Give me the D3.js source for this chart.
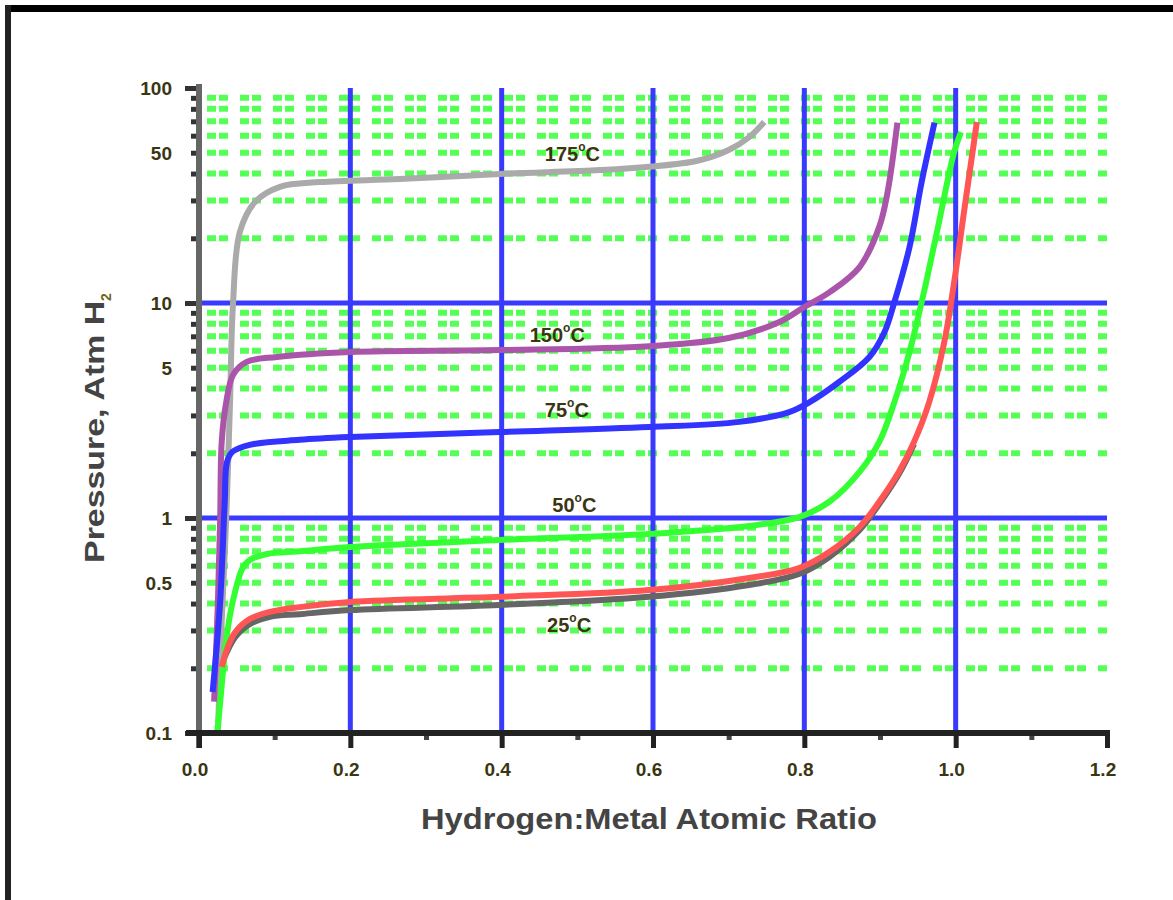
<!DOCTYPE html>
<html><head><meta charset="utf-8">
<script src="https://cdn.jsdelivr.net/npm/d3@7"></script>
<style>body{margin:0;background:#fff}svg{display:block}</style>
</head><body>
<svg id="c" width="1173" height="900"></svg>
<script>
const xTicks = [0.0, 0.2, 0.4, 0.6, 0.8, 1.0, 1.2];
const xTickLabels = ["0.0", "0.2", "0.4", "0.6", "0.8", "1.0", "1.2"];
const yTicks = [0.1, 0.5, 1, 5, 10, 50, 100];
const yTickLabels = ["0.1", "0.5", "1", "5", "10", "50", "100"];
const seriesNames = ["175°C", "150°C", "75°C", "50°C", "25°C", "25°C desorption"];

const s175x = [0.025,0.03,0.036,0.041,0.045,0.054,0.074,0.107,0.16,0.265,0.397,0.53,0.595,0.66,0.70,0.727,0.747];
const s175y = [0.1,0.33,1,3.46,10,21.4,29.5,34.7,36.5,37.7,39.8,41.5,43,46,51.5,59,69.5];

const s150x = [0.02,0.025,0.028,0.030,0.036,0.045,0.063,0.103,0.2,0.397,0.595,0.70,0.767,0.80,0.833,0.873,0.899,0.91,0.923];
const s150y = [0.14,0.41,1,2.26,3.46,4.63,5.32,5.61,5.92,6.04,6.3,6.87,8.16,9.58,11.2,14.7,22.6,32.8,69];

const s75x = [0.018,0.028,0.034,0.037,0.044,0.067,0.133,0.2,0.397,0.595,0.714,0.78,0.807,0.846,0.886,0.906,0.919,0.939,0.955,0.972];
const s75y = [0.155,0.41,1.19,1.82,2.03,2.19,2.31,2.38,2.51,2.65,2.8,3.11,3.46,4.29,5.61,7.33,10.1,18.2,36.5,69];

const s50x = [0.024,0.028,0.032,0.037,0.041,0.05,0.057,0.067,0.09,0.133,0.2,0.397,0.595,0.727,0.793,0.833,0.873,0.899,0.919,0.939,0.958,0.978,0.998,1.007];
const s50y = [0.1,0.139,0.199,0.286,0.354,0.488,0.579,0.638,0.68,0.70,0.733,0.79,0.843,0.918,1.01,1.19,1.64,2.26,3.46,5.92,11.2,23.8,50.4,62.4];

const s25x = [0.030,0.038,0.048,0.067,0.094,0.133,0.2,0.397,0.595,0.727,0.793,0.833,0.873,0.899,0.925,0.945,0.965,0.985,0.998,1.011,1.028];
const s25y = [0.203,0.251,0.295,0.339,0.366,0.385,0.407,0.43,0.462,0.526,0.585,0.695,0.908,1.19,1.64,2.26,3.46,6.59,12.5,26.5,69.5];

const s25dx = [0.034,0.048,0.067,0.094,0.133,0.2,0.397,0.595,0.727,0.793,0.833,0.873,0.899,0.925,0.945];
const s25dy = [0.226,0.28,0.321,0.347,0.357,0.373,0.394,0.43,0.488,0.549,0.659,0.879,1.16,1.6,2.21];

const seriesX = [s175x, s150x, s75x, s50x, s25dx, s25x];
const seriesY = [s175y, s150y, s75y, s50y, s25dy, s25y];
const seriesColors = ["#aaaaaa", "#aa55aa", "#3333ff", "#33ff33", "#666666", "#ff5555"];

const labelText = ["175", "150", "75", "50", "25"];
const labelX = [0.457, 0.437, 0.457, 0.467, 0.46];
const labelY = [46, 6.6, 2.95, 1.07, 0.295];

const svg = d3.select("#c");
const x = d3.scaleLinear().domain([0, 1.2]).range([199, 1107]);
const y = d3.scaleLog().domain([0.1, 100]).range([733, 88]);
const FONT = "Liberation Sans, Arial, sans-serif";

// frame
svg.append("rect").attr("x",5).attr("y",5).attr("width",1173).attr("height",7).attr("fill","#000");
svg.append("rect").attr("x",5).attr("y",5).attr("width",6).attr("height",900).attr("fill","#222");

// minor green gridlines
const minorY = [];
[0.1, 1, 10].forEach(d => { for (let k = 2; k <= 9; k++) minorY.push(d * k); });
svg.append("g").selectAll("line").data(minorY).join("line")
  .attr("x1", 207).attr("x2", 1107)
  .attr("y1", d => y(d)).attr("y2", d => y(d))
  .attr("stroke", "#55ff55").attr("stroke-width", 6)
  .attr("stroke-dasharray", "9,3,9,12");

// major blue gridlines
svg.append("g").selectAll("line").data([0.2,0.4,0.6,0.8,1.0]).join("line")
  .attr("x1", d => x(d)).attr("x2", d => x(d)).attr("y1", 88).attr("y2", 733)
  .attr("stroke", "#3a3aff").attr("stroke-width", 5);
svg.append("g").selectAll("line").data([1, 10]).join("line")
  .attr("x1", 199).attr("x2", 1107).attr("y1", d => y(d)).attr("y2", d => y(d))
  .attr("stroke", "#3a3aff").attr("stroke-width", 5);

// curves
const line = d3.line().x(d => x(d[0])).y(d => y(d[1])).curve(d3.curveCatmullRom.alpha(0.5));
seriesX.forEach((xs, i) => {
  const pts = xs.map((v, j) => [v, seriesY[i][j]]);
  svg.append("path").attr("d", line(pts)).attr("fill", "none")
    .attr("stroke", seriesColors[i]).attr("stroke-width", 6)
    .attr("stroke-linejoin", "round");
});

// axes
const yAxis = d3.axisLeft(y).tickValues([0.1,1,10,100]).tickSize(14).tickFormat("");
const gy = svg.append("g").attr("transform", "translate(199,0)").call(yAxis);
gy.select(".domain").remove();
gy.selectAll(".tick line").attr("stroke", "#333").attr("stroke-width", 5);
const gyMinor = svg.append("g").attr("transform", "translate(199,0)")
  .call(d3.axisLeft(y).tickValues(minorY).tickSize(8).tickFormat(""));
gyMinor.select(".domain").remove();
gyMinor.selectAll(".tick line").attr("stroke", "#333").attr("stroke-width", 5);
svg.append("line").attr("x1",199).attr("x2",199).attr("y1",84).attr("y2",748)
  .attr("stroke","#666").attr("stroke-width",6);

const gx = svg.append("g").attr("transform", "translate(0,733)")
  .call(d3.axisBottom(x).tickValues(xTicks).tickSize(15).tickFormat(""));
gx.select(".domain").remove();
gx.selectAll(".tick line").attr("stroke", "#222").attr("stroke-width", 5);
const gxm = svg.append("g").attr("transform", "translate(0,733)")
  .call(d3.axisBottom(x).tickValues([0.1,0.3,0.5,0.7,0.9,1.1]).tickSize(7).tickFormat(""));
gxm.select(".domain").remove();
gxm.selectAll(".tick line").attr("stroke", "#444").attr("stroke-width", 5);
svg.append("line").attr("x1",186).attr("x2",1110).attr("y1",733).attr("y2",733)
  .attr("stroke","#222").attr("stroke-width",6);

// tick labels
svg.append("g").selectAll("text").data(xTicks).join("text")
  .attr("x", d => x(d) - 4).attr("y", 776).attr("text-anchor", "middle")
  .attr("font-family", FONT).attr("font-weight", "bold")
  .attr("font-size", 19).attr("fill", "#3a3612")
  .text((d, i) => xTickLabels[i]);
svg.append("g").selectAll("text").data(yTicks).join("text")
  .attr("x", 172).attr("y", d => y(d) + 7).attr("text-anchor", "end")
  .attr("font-family", FONT).attr("font-weight", "bold")
  .attr("font-size", 19).attr("fill", "#3a3612")
  .text((d, i) => yTickLabels[i]);

// axis titles
svg.append("text").attr("x", 649).attr("y", 829).attr("text-anchor", "middle")
  .attr("font-family", FONT).attr("font-weight", "bold")
  .attr("font-size", 29).attr("fill", "#444")
  .attr("textLength", 456).attr("lengthAdjust", "spacingAndGlyphs")
  .text("Hydrogen:Metal Atomic Ratio");
const yt = svg.append("text").attr("transform", "translate(104,428) rotate(-90)")
  .attr("text-anchor", "middle")
  .attr("font-family", FONT).attr("font-weight", "bold")
  .attr("font-size", 28).attr("fill", "#444");
yt.append("tspan").attr("textLength", 262).attr("lengthAdjust", "spacingAndGlyphs").text("Pressure, Atm H");
yt.append("tspan").attr("font-size", 14).attr("dy", 7).attr("fill", "#6b6420").text("2");

// series labels
labelText.forEach((t, i) => {
  const tx = svg.append("text").attr("x", x(labelX[i])).attr("y", y(labelY[i]))
    .attr("font-family", FONT).attr("font-weight", "bold")
    .attr("font-size", 20).attr("fill", "#3a3612");
  tx.append("tspan").text(t);
  tx.append("tspan").attr("font-size", 12).attr("dy", -10).text("o");
  tx.append("tspan").attr("dy", 10).text("C");
});
</script>
</body></html>
